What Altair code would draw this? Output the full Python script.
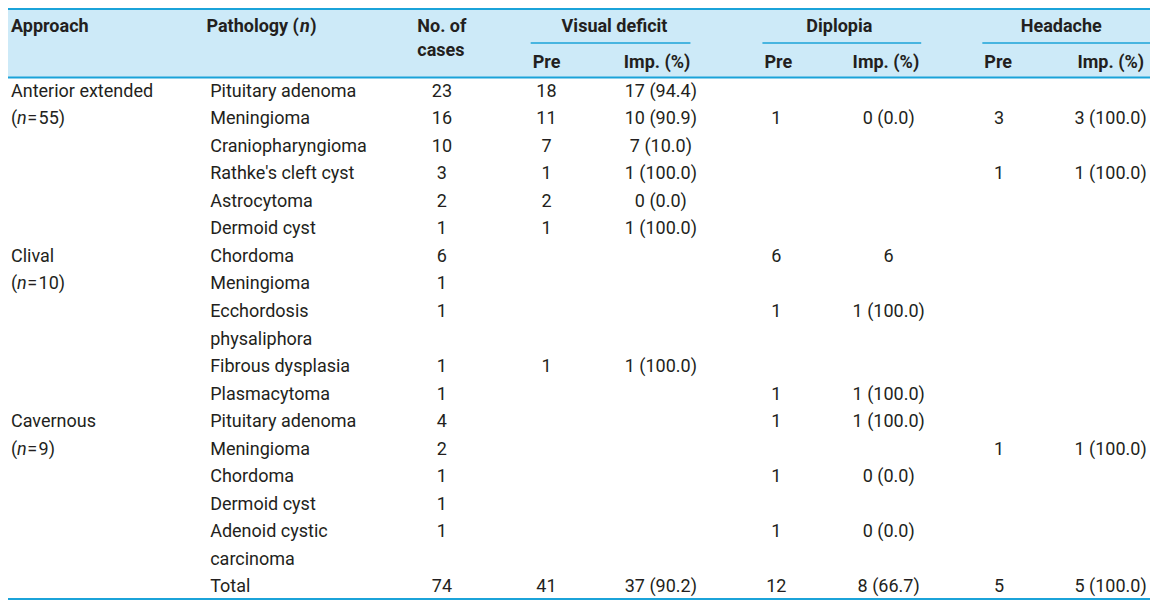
import altair as alt
import pandas as pd

# ---------------- data ----------------
approach_names = ["Anterior extended", "Clival", "Cavernous"]
approach_n = ["55", "10", "9"]
approach_first_row = [0, 6, 11]

pathology = ["Pituitary adenoma", "Meningioma", "Craniopharyngioma", "Rathke's cleft cyst",
             "Astrocytoma", "Dermoid cyst", "Chordoma", "Meningioma",
             "Ecchordosis\nphysaliphora", "Fibrous dysplasia", "Plasmacytoma",
             "Pituitary adenoma", "Meningioma", "Chordoma", "Dermoid cyst",
             "Adenoid cystic\ncarcinoma", "Total"]
cases = ["23", "16", "10", "3", "2", "1", "6", "1", "1", "1", "1", "4", "2", "1", "1", "1", "74"]
vis_pre = ["18", "11", "7", "1", "2", "1", "", "", "", "1", "", "", "", "", "", "", "41"]
vis_imp = ["17 (94.4)", "10 (90.9)", "7 (10.0)", "1 (100.0)", "0 (0.0)", "1 (100.0)", "", "", "",
           "1 (100.0)", "", "", "", "", "", "", "37 (90.2)"]
dip_pre = ["", "1", "", "", "", "", "6", "", "1", "", "1", "1", "", "1", "", "1", "12"]
dip_imp = ["", "0 (0.0)", "", "", "", "", "6", "", "1 (100.0)", "", "1 (100.0)", "1 (100.0)", "",
           "0 (0.0)", "", "0 (0.0)", "8 (66.7)"]
head_pre = ["", "3", "", "1", "", "", "", "", "", "", "", "", "1", "", "", "", "5"]
head_imp = ["", "3 (100.0)", "", "1 (100.0)", "", "", "", "", "", "", "", "", "1 (100.0)", "", "", "",
            "5 (100.0)"]

group_titles = ["Visual deficit", "Diplopia", "Headache"]
sub_titles = ["Pre", "Imp. (%)"]

# ---------------- layout ----------------
REF_W, REF_H = 1158, 609
W, H = 1142, 593
FONT = "Roboto"
FS = 18
TXT = "#231f20"
LINE_C = "#1ba3d9"
BG_C = "#cdeaf8"
LINE0, STEP = 86, 28.28

xs = alt.Scale(domain=[0, REF_W], range=[0, W], nice=False, zero=False)
ys = alt.Scale(domain=[0, REF_H], range=[0, H], nice=False, zero=False)

col_x = {"cases": 440, "vpre": 546, "vimp": 662, "dpre": 779, "dimp": 893,
         "hpre": 1005, "himp": 1118}

rows = []  # x, y, text, grp


def add(x, y, text, grp):
    if text != "":
        rows.append({"x": x, "y": y, "text": text, "grp": grp})


line_of_row = []
ln = 0
for p in pathology:
    line_of_row.append(ln)
    ln += len(p.split("\n"))


def ly(line):
    return LINE0 + STEP * line


for i, p in enumerate(pathology):
    for k, part in enumerate(p.split("\n")):
        add(205, ly(line_of_row[i] + k), part, "left")
    y = ly(line_of_row[i])
    add(col_x["cases"], y, cases[i], "center")
    add(col_x["vpre"], y, vis_pre[i], "center")
    add(col_x["vimp"], y, vis_imp[i], "center")
    add(col_x["dpre"], y, dip_pre[i], "center")
    add(col_x["dimp"], y, dip_imp[i], "center")
    add(col_x["hpre"], y, head_pre[i], "center")
    add(col_x["himp"], y, head_imp[i], "center")

for name, n, r in zip(approach_names, approach_n, approach_first_row):
    l0 = line_of_row[r]
    add(3, ly(l0), name, "left")
    add(3, ly(l0 + 1), "(", "left")
    add(9, ly(l0 + 1), "n", "italic")
    add(19.5, ly(l0 + 1), "=", "left")
    add(31, ly(l0 + 1), n + ")", "left")

# header
HY1, HY2, HY3 = 19, 44, 56
add(3, HY1, "Approach", "bleft")
add(295, HY1, "Pathology (", "bright")
add(296, HY1, "n", "bitalic")
add(313, HY1, ")", "bright")
add(415, HY1, "No. of", "bleft")
add(415, HY2, "cases", "bleft")
group_center = [615, 843, 1068]
pre_left = [532, 767, 990]
imp_right = [692, 924, 1152]
for t, c, pl, ir in zip(group_titles, group_center, pre_left, imp_right):
    add(c, HY1, t, "bcenter")
    add(pl, HY3, sub_titles[0], "bleft")
    add(ir, HY3, sub_titles[1], "bright")

df = pd.DataFrame(rows)

styles = {
    "left": dict(align="left", fontWeight="normal", fontStyle="normal"),
    "center": dict(align="center", fontWeight="normal", fontStyle="normal"),
    "italic": dict(align="left", fontWeight="normal", fontStyle="italic"),
    "bleft": dict(align="left", fontWeight="bold", fontStyle="normal"),
    "bcenter": dict(align="center", fontWeight="bold", fontStyle="normal"),
    "bright": dict(align="right", fontWeight="bold", fontStyle="normal"),
    "bitalic": dict(align="left", fontWeight="bold", fontStyle="italic"),
}

layers = []

bg = pd.DataFrame({"x0": [0], "x1": [REF_W], "y0": [0], "y1": [71]})
layers.append(alt.Chart(bg).mark_rect(color=BG_C).encode(
    x=alt.X("x0:Q", scale=xs, axis=None), x2="x1:Q",
    y=alt.Y("y0:Q", scale=ys, axis=None), y2="y1:Q"))

thick = pd.DataFrame({"x0": [0, 0, 0], "x1": [REF_W, REF_W, REF_W], "y": [1, 71.5, 607]})
layers.append(alt.Chart(thick).mark_rule(color=LINE_C, strokeWidth=2).encode(
    x=alt.X("x0:Q", scale=xs, axis=None), x2="x1:Q",
    y=alt.Y("y:Q", scale=ys, axis=None)))

thin = pd.DataFrame({"x0": [530, 765, 988], "x1": [692, 926, REF_W], "y": [36, 36, 36]})
layers.append(alt.Chart(thin).mark_rule(color=LINE_C, strokeWidth=1.5).encode(
    x=alt.X("x0:Q", scale=xs, axis=None), x2="x1:Q",
    y=alt.Y("y:Q", scale=ys, axis=None)))

for g, st in styles.items():
    sub = df[df["grp"] == g]
    if len(sub) == 0:
        continue
    layers.append(alt.Chart(sub).mark_text(
        baseline="middle", font=FONT, fontSize=FS, color=TXT, **st).encode(
        x=alt.X("x:Q", scale=xs, axis=None),
        y=alt.Y("y:Q", scale=ys, axis=None),
        text="text:N"))

chart = alt.layer(*layers).properties(
    width=W, height=H, padding=0,
    autosize=alt.AutoSizeParams(type="none"),
    background="white",
).configure_view(strokeWidth=0)

chart.save("out.html", embed_options={"renderer": "svg", "actions": False})
